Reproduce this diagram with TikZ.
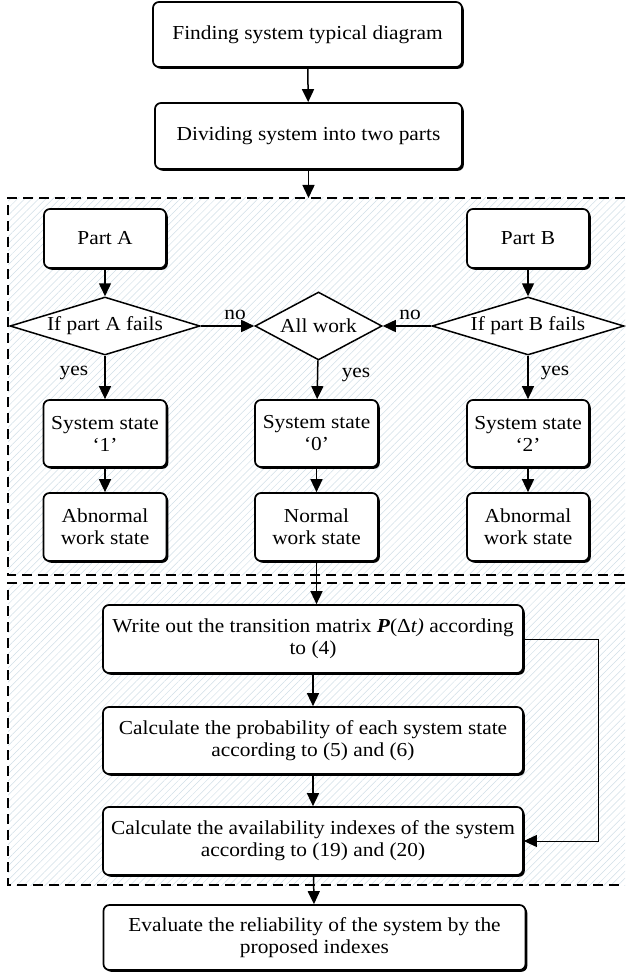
\documentclass[tikz,border=0pt]{standalone}
\usepackage{fontspec}
\setmainfont{Liberation Serif}[FakeStretch=1.08]
\usetikzlibrary{shapes.geometric,shadows,arrows.meta,patterns.meta}
\definecolor{hatchblue}{RGB}{208,222,230}

\begin{document}
\begin{tikzpicture}[x=1pt, y=-1pt,
        font=\fontsize{19.8}{22}\selectfont,
        block/.style={draw, line width=1.7pt, rounded corners=6pt, fill=white, align=center, inner sep=2pt,
            drop shadow={shadow xshift=1.8pt, shadow yshift=-1.8pt, fill=black, opacity=1}},
        test/.style={draw, diamond, line width=1.5pt, fill=white, inner sep=0pt, inner xsep=-7pt, aspect=3},
        flow/.style={-{Triangle[length=13pt, width=12pt]}, line width=1.5pt},
        region/.style={line width=1.6pt, dash pattern=on 10pt off 6pt},
        hatch/.style={pattern={Lines[angle=45, distance=5pt, line width=0.5pt]}, pattern color=hatchblue}]
        \useasboundingbox (0,0) rectangle (625,973);
        % dashed regions
        \fill[hatch] (8,198) rectangle (625,575);
        \fill[hatch] (8,583) rectangle (625,885);
        \draw[region] (625,198) -- (8,198) -- (8,575) -- (625,575);
        \draw[region] (625,583) -- (8,583) -- (8,885) -- (625,885);

        \node[block, minimum width=309, minimum height=65] (find) at (307.5,34.5) {Finding system typical diagram};
        \node[block, minimum width=307, minimum height=66] (divide) at (308.5,136) {Dividing system into two parts};
        \coordinate (top) at (308.5,198);

        \node[block, minimum width=122, minimum height=59] (partA) at (105,238.5) {Part A};
        \node[block, minimum width=122, minimum height=59] (partB) at (528,238.5) {Part B};
        \node[test, minimum width=190, minimum height=58] (failA) at (105,326) {If part A fails};
        \node[test, minimum width=127, minimum height=68, aspect=2] (allwork) at (318.5,326) {All work};
        \node[test, minimum width=192, minimum height=58] (failB) at (528,326) {If part B fails};

        \node[block, minimum width=123, minimum height=67] (stateA) at (105,433.5) {System state\\‘1’};
        \node[block, minimum width=123, minimum height=67] (stateO) at (316.5,433.5) {System state\\‘0’};
        \node[block, minimum width=122, minimum height=67] (stateB) at (528,433.5) {System state\\‘2’};
        \node[block, minimum width=123, minimum height=68] (abnA) at (105,527) {Abnormal\\work state};
        \node[block, minimum width=123, minimum height=68] (normal) at (316.5,527) {Normal\\work state};
        \node[block, minimum width=122, minimum height=68] (abnB) at (528,527) {Abnormal\\work state};

        \node[block, minimum width=420, minimum height=68] (write) at (313,639)
            {Write out the transition matrix \textbf{\textit{P}}(Δ\textit{t)} according\\to (4)};
        \node[block, minimum width=420, minimum height=67] (prob) at (313,740.5)
            {Calculate the probability of each system state\\according to (5) and (6)};
        \node[block, minimum width=420, minimum height=68] (avail) at (313,841)
            {Calculate the availability indexes of the system\\according to (19) and (20)};
        \node[block, minimum width=422, minimum height=65] (eval) at (314.5,937.5)
            {Evaluate the reliability of the system by the\\proposed indexes};
        \coordinate (loop) at (598,639);

        \draw[flow] (find) -- (divide);
        \draw[flow] (divide) -- (top);
        \draw[flow] (partA) -- (failA);
        \draw[flow] (partB) -- (failB);
        \draw[flow] (failA) -- (allwork);
        \draw[flow] (failB) -- (allwork);
        \draw[flow] (failA) -- (stateA);
        \draw[flow] (allwork) -- (stateO);
        \draw[flow] (failB) -- (stateB);
        \draw[flow] (stateA) -- (abnA);
        \draw[flow] (stateO) -- (normal);
        \draw[flow] (stateB) -- (abnB);
        \draw[flow] (normal.south) -- (normal.south |- write.north);
        \draw[flow] (write) -- (prob);
        \draw[flow] (prob) -- (avail);
        \draw[flow] (avail) -- (eval);
        \draw[-{Triangle[length=13pt, width=12pt]}, line width=1pt] (write.east) -- (loop) |- (avail.east);

        \node[] (noA) at (235,315) {no};
        \node[] (noB) at (410,315) {no};
        \node[] (yesA) at (74,373) {yes};
        \node[] (yesO) at (356,375) {yes};
        \node[] (yesB) at (555,373) {yes};
\end{tikzpicture}
\end{document}
